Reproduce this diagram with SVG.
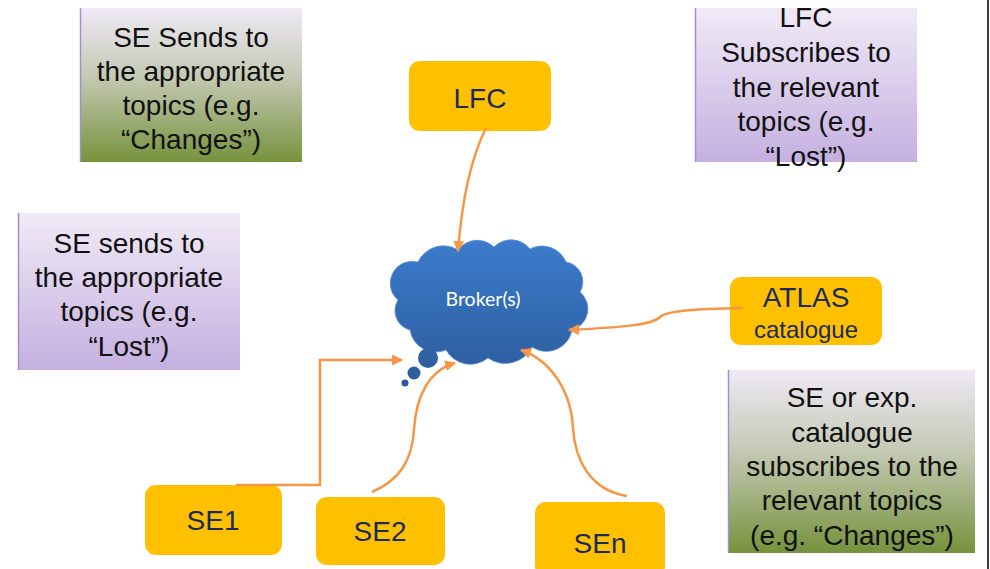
<svg xmlns="http://www.w3.org/2000/svg" width="990" height="569" viewBox="0 0 990 569">
  <style>
    .note text { font-family: "Liberation Sans", Arial, sans-serif; font-size: 28px; fill: #111; text-anchor: middle; }
    .node rect { fill: #ffc000; }
    .node text { font-family: "Liberation Sans", Arial, sans-serif; font-size: 28px; fill: #1b2a5c; text-anchor: middle; }
    .edge { fill: none; stroke: #f79646; stroke-width: 2.5; marker-end: url(#arrow); }
    .edge-edge { stroke: #a290c8; stroke-width: 1.5; }
  </style>
  <defs>
    <linearGradient id="greenFill" x1="0" y1="0" x2="0" y2="1">
      <stop offset="0" stop-color="#efe9f6"/>
      <stop offset="0.45" stop-color="#c3c9b3"/>
      <stop offset="1" stop-color="#76923c"/>
    </linearGradient>
    <linearGradient id="purpleFill" x1="0" y1="0" x2="0" y2="1">
      <stop offset="0" stop-color="#f0eaf6"/>
      <stop offset="1" stop-color="#c4b0e0"/>
    </linearGradient>
    <linearGradient id="cloudFill" gradientUnits="userSpaceOnUse" x1="0" y1="240" x2="0" y2="390">
      <stop offset="0" stop-color="#3c7ccc"/>
      <stop offset="1" stop-color="#2b5a98"/>
    </linearGradient>
    <marker id="arrow" viewBox="0 0 10 10" refX="9" refY="5" markerWidth="4.4" markerHeight="4.4" orient="auto-start-reverse">
      <path d="M0,0 L10,5 L0,10 Z" fill="#f79646"/>
    </marker>
  </defs>

  <rect x="0" y="0" width="990" height="569" fill="#ffffff"/>
  <line x1="988" y1="0" x2="988" y2="569" stroke="#000" stroke-width="1.5"/>

  <!-- explanatory notes -->
  <g id="note-se-sends-changes" class="note">
    <rect x="80" y="8" width="222" height="154" fill="url(#greenFill)"/>
    <line class="edge-edge" x1="80.5" y1="8" x2="80.5" y2="162"/>
    <text x="191" y="47">SE Sends to</text>
    <text x="191" y="81">the appropriate</text>
    <text x="191" y="115">topics (e.g.</text>
    <text x="191" y="149">“Changes”)</text>
  </g>

  <g id="note-lfc-subscribes" class="note">
    <rect x="695" y="8" width="222" height="154" fill="url(#purpleFill)"/>
    <line class="edge-edge" x1="695.5" y1="8" x2="695.5" y2="162"/>
    <text x="806" y="27">LFC</text>
    <text x="806" y="62">Subscribes to</text>
    <text x="806" y="97">the relevant</text>
    <text x="806" y="131">topics (e.g.</text>
    <text x="806" y="166">“Lost”)</text>
  </g>

  <g id="note-se-sends-lost" class="note">
    <rect x="18" y="213" width="222" height="157" fill="url(#purpleFill)"/>
    <line class="edge-edge" x1="18.5" y1="213" x2="18.5" y2="370"/>
    <text x="129" y="253">SE sends to</text>
    <text x="129" y="287">the appropriate</text>
    <text x="129" y="321">topics (e.g.</text>
    <text x="129" y="356">“Lost”)</text>
  </g>

  <g id="note-catalogue-subscribes" class="note">
    <rect x="728" y="370" width="247" height="183" fill="url(#greenFill)"/>
    <line class="edge-edge" x1="728.5" y1="370" x2="728.5" y2="553"/>
    <text x="852" y="407">SE or exp.</text>
    <text x="852" y="442">catalogue</text>
    <text x="852" y="476">subscribes to the</text>
    <text x="852" y="510">relevant topics</text>
    <text x="852" y="545">(e.g. “Changes”)</text>
  </g>

  <!-- broker cloud -->
  <g id="broker">
    <path d="M398,300 A22,22 0 0 1 418,262 A28,28 0 0 1 458,250 A24,24 0 0 1 494,247 A24,24 0 0 1 530,249 A26,26 0 0 1 566,262 A20,20 0 0 1 580,292 A22,22 0 0 1 572,330 A26,26 0 0 1 532,347 A30,30 0 0 1 488,358 A28,28 0 0 1 446,350 A26,26 0 0 1 410,330 A20,20 0 0 1 398,300 Z" fill="url(#cloudFill)" stroke="#5a8fd6" stroke-width="0.8"/>
    <circle cx="428" cy="358" r="10" fill="url(#cloudFill)"/>
    <circle cx="414" cy="373" r="6.5" fill="url(#cloudFill)"/>
    <circle cx="405" cy="383" r="3.5" fill="url(#cloudFill)"/>
    <text x="483" y="306" font-family="Lato, 'Open Sans', sans-serif" font-size="19.5" fill="#ffffff" text-anchor="middle">Broker(s)</text>
  </g>

  <!-- publishers and subscribers -->
  <g id="lfc" class="node">
    <rect x="409" y="61" width="142" height="70" rx="11"/>
    <text x="480" y="108">LFC</text>
  </g>

  <g id="atlas" class="node">
    <rect x="730" y="277" width="152" height="68" rx="11"/>
    <text x="806" y="307" font-size="27">ATLAS</text>
    <text x="806" y="338" style="font-size:24px">catalogue</text>
  </g>

  <g id="se1" class="node">
    <rect x="145" y="485" width="137" height="70" rx="11"/>
    <text x="213" y="530">SE1</text>
  </g>

  <g id="se2" class="node">
    <rect x="316" y="497" width="129" height="68" rx="11"/>
    <text x="380" y="541">SE2</text>
  </g>

  <g id="sen" class="node">
    <rect x="535" y="502" width="130" height="75" rx="11"/>
    <text x="600" y="553">SEn</text>
  </g>

  <!-- connectors -->
  <g id="connectors">
    <path class="edge" d="M486,128 C470,160 462,200 458,251"/>
    <path class="edge" d="M743,308 C700,309 668,310 660,317 C652,325 625,327 569,330"/>
    <path class="edge" d="M236,485 L320,485 L320,360 L402,360"/>
    <path class="edge" d="M372,492 C400,480 412,460 414,430 C416,395 430,370 455,363"/>
    <path class="edge" d="M627,496 C590,490 575,460 573,428 C571,390 550,360 521,350"/>
  </g>
</svg>
